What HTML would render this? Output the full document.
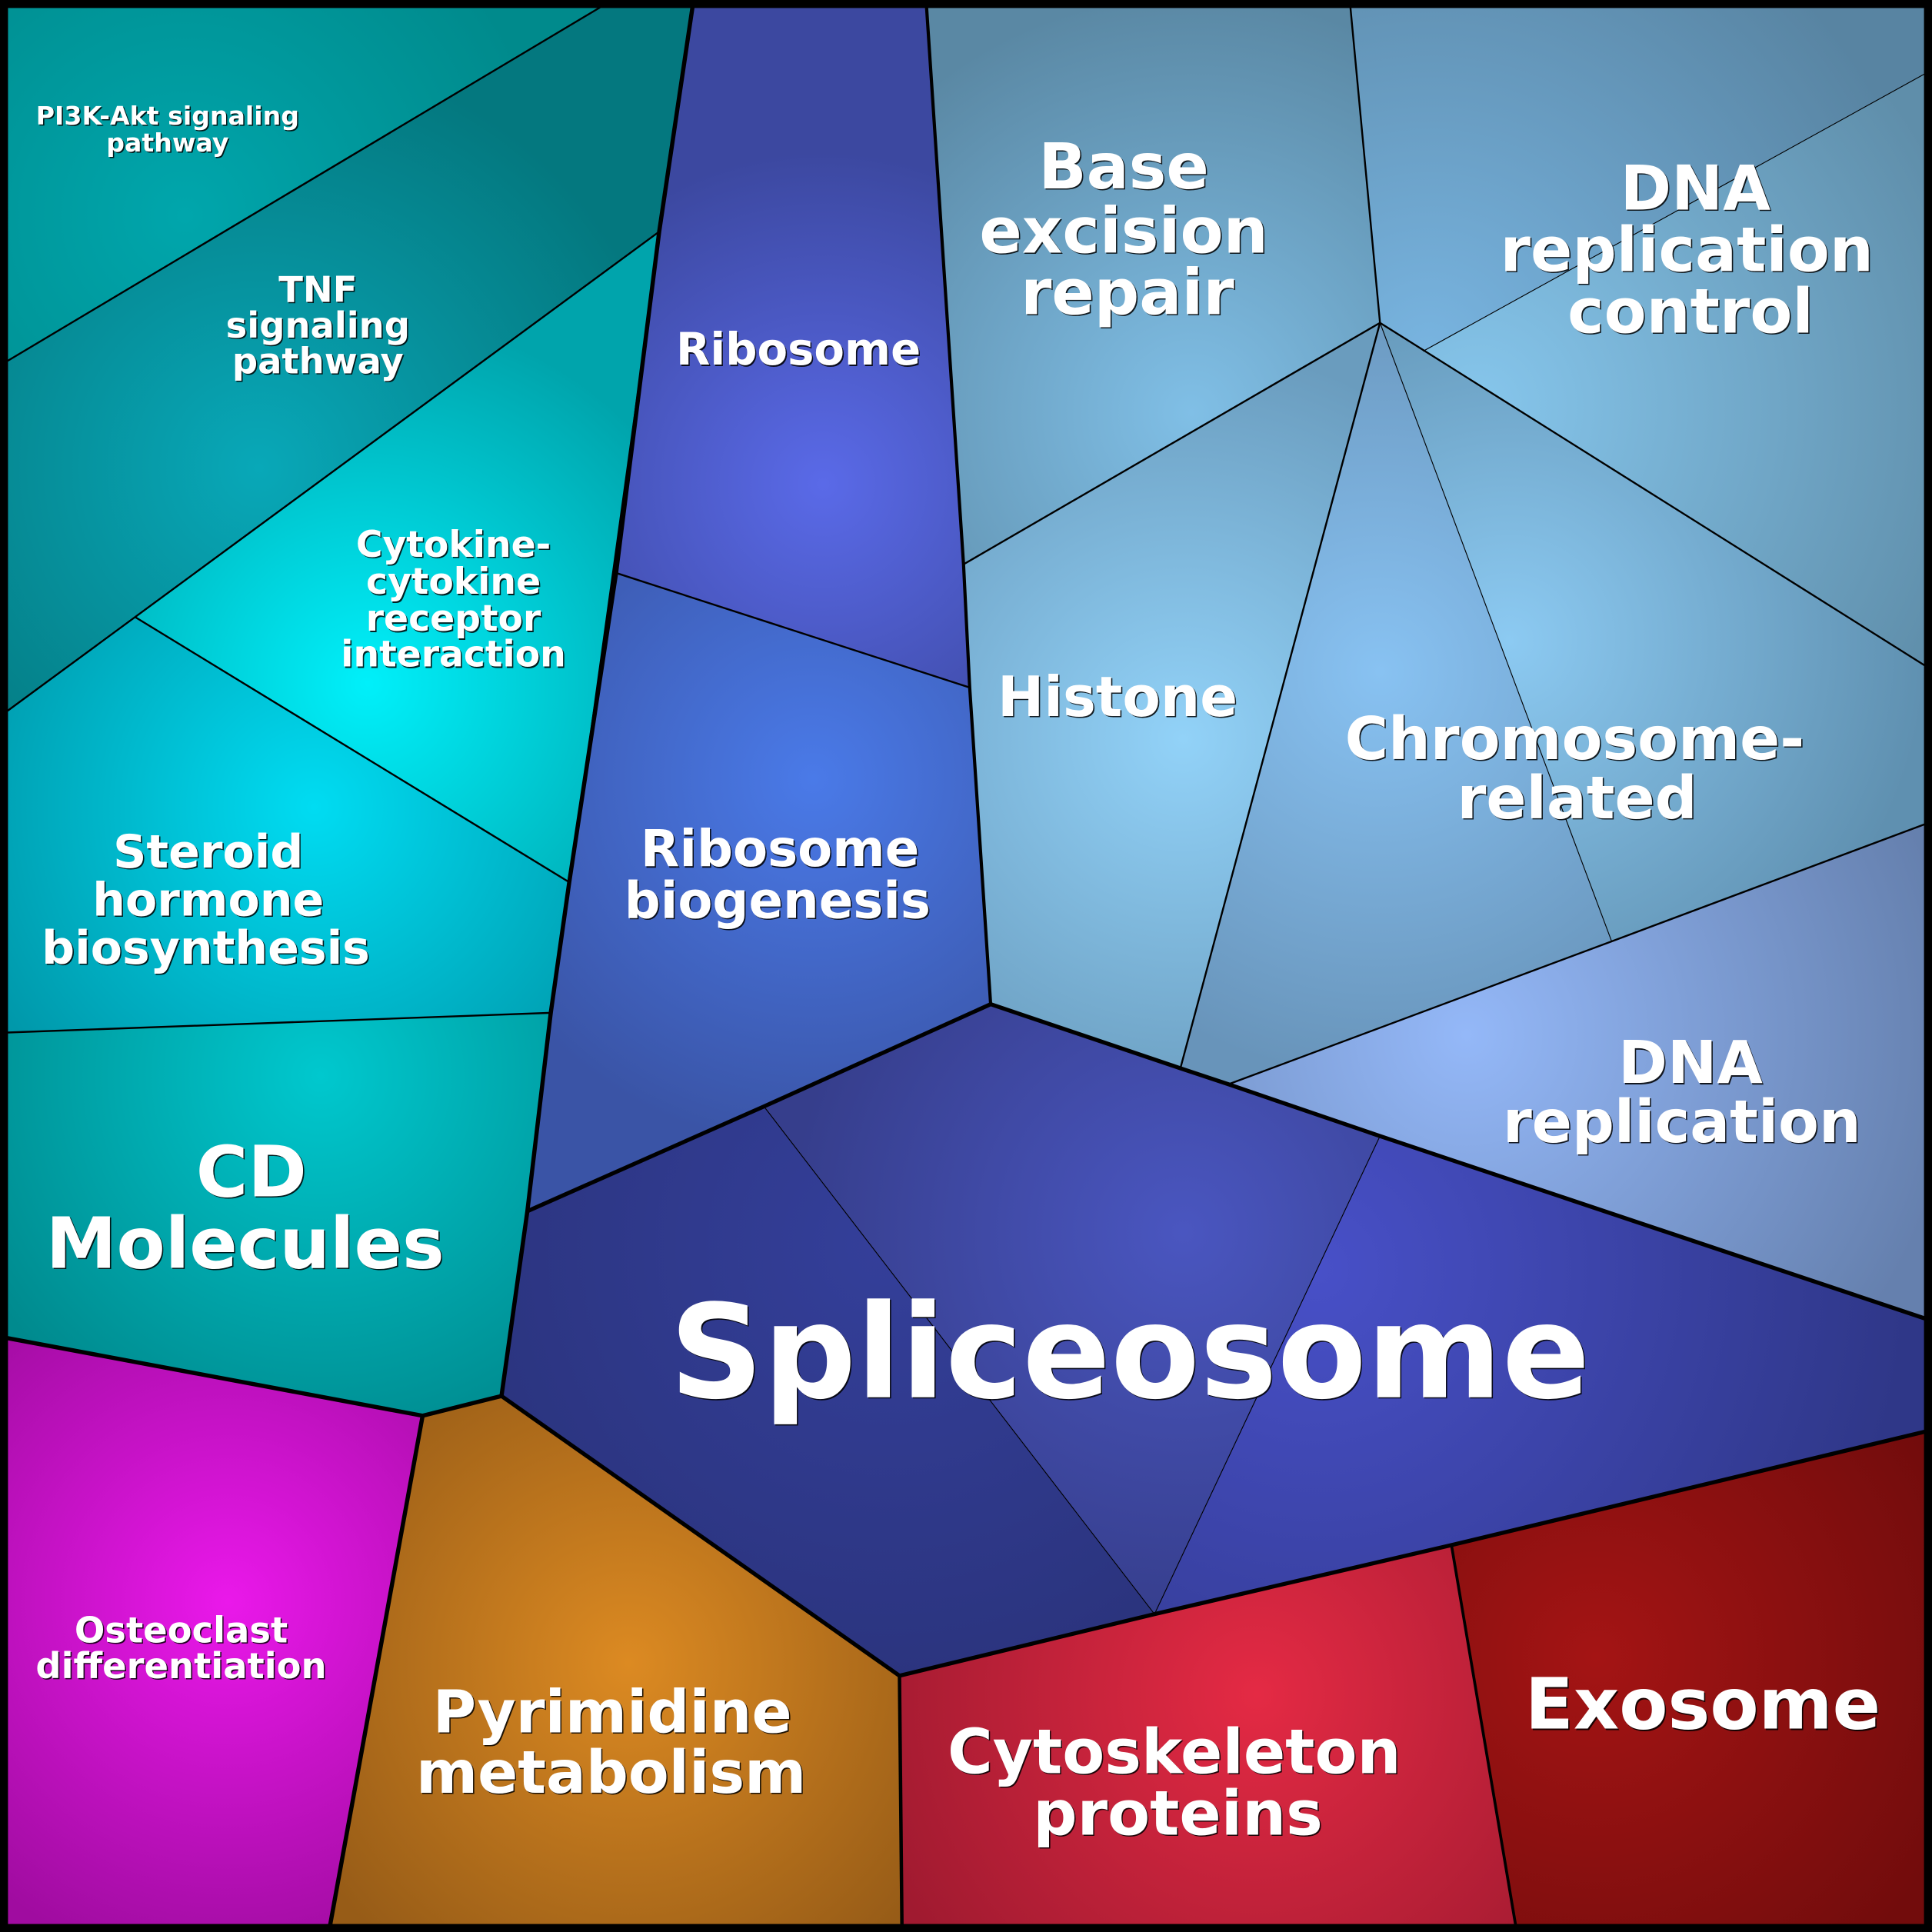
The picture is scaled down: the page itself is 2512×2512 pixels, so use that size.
<!DOCTYPE html>
<html><head><meta charset="utf-8"><style>
html,body{margin:0;padding:0;background:#000;}
svg{display:block;}
text{font-family:"DejaVu Sans","Liberation Sans",sans-serif;font-weight:bold;text-anchor:middle;}
.s{fill:#000;opacity:0.85;}
.w{fill:#fff;}
</style></head><body>
<svg width="2512" height="2512" viewBox="0 0 1568 1568" xmlns="http://www.w3.org/2000/svg">
<defs>
<radialGradient id="gPI" gradientUnits="userSpaceOnUse" cx="150" cy="175" r="300"><stop offset="0" stop-color="#00a6ac"/><stop offset="1" stop-color="#008a8c"/></radialGradient>
<radialGradient id="gTNF" gradientUnits="userSpaceOnUse" cx="210" cy="380" r="340"><stop offset="0" stop-color="#08a8b8"/><stop offset="1" stop-color="#04787f"/></radialGradient>
<radialGradient id="gCY" gradientUnits="userSpaceOnUse" cx="298" cy="555" r="300"><stop offset="0" stop-color="#00f0fa"/><stop offset="1" stop-color="#00a4ac"/></radialGradient>
<radialGradient id="gST" gradientUnits="userSpaceOnUse" cx="255" cy="655" r="320"><stop offset="0" stop-color="#00dcf2"/><stop offset="1" stop-color="#0094a6"/></radialGradient>
<radialGradient id="gCD" gradientUnits="userSpaceOnUse" cx="260" cy="873" r="320"><stop offset="0" stop-color="#00c8ce"/><stop offset="1" stop-color="#008a8e"/></radialGradient>
<radialGradient id="gRI" gradientUnits="userSpaceOnUse" cx="668" cy="393" r="270"><stop offset="0" stop-color="#5a6ae8"/><stop offset="1" stop-color="#3c48a0"/></radialGradient>
<radialGradient id="gRB" gradientUnits="userSpaceOnUse" cx="660" cy="632" r="300"><stop offset="0" stop-color="#4a7ae8"/><stop offset="1" stop-color="#3a54a6"/></radialGradient>
<radialGradient id="gBE" gradientUnits="userSpaceOnUse" cx="967" cy="335" r="340"><stop offset="0" stop-color="#80bfe6"/><stop offset="1" stop-color="#5a88a4"/></radialGradient>
<radialGradient id="gDC1" gradientUnits="userSpaceOnUse" cx="1160" cy="285" r="420"><stop offset="0" stop-color="#78b4e0"/><stop offset="1" stop-color="#5884a2"/></radialGradient>
<radialGradient id="gDC2" gradientUnits="userSpaceOnUse" cx="1200" cy="330" r="420"><stop offset="0" stop-color="#86c6ec"/><stop offset="1" stop-color="#5f8eaa"/></radialGradient>
<radialGradient id="gHI" gradientUnits="userSpaceOnUse" cx="960" cy="600" r="320"><stop offset="0" stop-color="#92d2f8"/><stop offset="1" stop-color="#6a9cbe"/></radialGradient>
<radialGradient id="gCH1" gradientUnits="userSpaceOnUse" cx="1120" cy="545" r="330"><stop offset="0" stop-color="#88c2f2"/><stop offset="1" stop-color="#6894ba"/></radialGradient>
<radialGradient id="gCH2" gradientUnits="userSpaceOnUse" cx="1225" cy="520" r="340"><stop offset="0" stop-color="#8ccaf2"/><stop offset="1" stop-color="#5f90b0"/></radialGradient>
<radialGradient id="gDR" gradientUnits="userSpaceOnUse" cx="1190" cy="840" r="400"><stop offset="0" stop-color="#94b8f8"/><stop offset="1" stop-color="#6580ae"/></radialGradient>
<radialGradient id="gSP1" gradientUnits="userSpaceOnUse" cx="720" cy="1010" r="360"><stop offset="0" stop-color="#343f9a"/><stop offset="1" stop-color="#2b347e"/></radialGradient>
<radialGradient id="gSP2" gradientUnits="userSpaceOnUse" cx="960" cy="1000" r="320"><stop offset="0" stop-color="#4a56c0"/><stop offset="1" stop-color="#363e8c"/></radialGradient>
<radialGradient id="gSP3" gradientUnits="userSpaceOnUse" cx="1069" cy="1030" r="480"><stop offset="0" stop-color="#4850c8"/><stop offset="1" stop-color="#2f3788"/></radialGradient>
<radialGradient id="gOS" gradientUnits="userSpaceOnUse" cx="185" cy="1300" r="300"><stop offset="0" stop-color="#ea18ea"/><stop offset="1" stop-color="#a00ca0"/></radialGradient>
<radialGradient id="gPY" gradientUnits="userSpaceOnUse" cx="510" cy="1350" r="300"><stop offset="0" stop-color="#dc8a22"/><stop offset="1" stop-color="#975c17"/></radialGradient>
<radialGradient id="gCS" gradientUnits="userSpaceOnUse" cx="1020" cy="1375" r="330"><stop offset="0" stop-color="#e42a44"/><stop offset="1" stop-color="#a01a30"/></radialGradient>
<radialGradient id="gEX" gradientUnits="userSpaceOnUse" cx="1295" cy="1345" r="320"><stop offset="0" stop-color="#a41414"/><stop offset="1" stop-color="#720c0c"/></radialGradient>
</defs>

<rect x="0" y="0" width="1568" height="1568" fill="#000"/>

<polygon fill="url(#gPI)" points="6,6 487,6 6,293"/>
<polygon fill="url(#gTNF)" points="487,6 562,6 535,188 6,577 6,293"/>
<polygon fill="url(#gCY)" points="110,501 535,188 462,716"/>
<polygon fill="url(#gST)" points="6,577 110,501 462,716 447,822 6,838"/>
<polygon fill="url(#gCD)" points="6,838 447,822 428,983 407,1133 343,1149 6,1086"/>
<polygon fill="url(#gRI)" points="562,6 752,6 782,458 787,558 500,465 535,188"/>
<polygon fill="url(#gRB)" points="500,465 787,558 804,815 620,898 428,983 447,822 462,716"/>
<polygon fill="url(#gBE)" points="752,6 1096,6 1120,262 782,458"/>
<polygon fill="url(#gDC1)" points="1096,6 1562,6 1562,60 1155,285 1120,262"/>
<polygon fill="url(#gDC2)" points="1155,285 1562,60 1562,540"/>
<polygon fill="url(#gHI)" points="782,458 1120,262 958,867 804,815 787,558"/>
<polygon fill="url(#gCH1)" points="1120,262 1308,764 997,880 958,867"/>
<polygon fill="url(#gCH2)" points="1120,262 1562,540 1562,669 1308,764"/>
<polygon fill="url(#gDR)" points="997,880 1308,764 1562,669 1562,1070 1120,922"/>
<polygon fill="url(#gSP1)" points="428,983 620,898 937,1310 730,1360 407,1133"/>
<polygon fill="url(#gSP2)" points="620,898 804,815 958,867 997,880 1120,922 937,1310"/>
<polygon fill="url(#gSP3)" points="1120,922 1562,1070 1562,1162 1178,1254 937,1310"/>
<polygon fill="url(#gOS)" points="6,1086 343,1149 268,1562 6,1562"/>
<polygon fill="url(#gPY)" points="343,1149 407,1133 730,1360 732,1562 268,1562"/>
<polygon fill="url(#gCS)" points="730,1360 937,1310 1178,1254 1230,1562 732,1562"/>
<polygon fill="url(#gEX)" points="1178,1254 1562,1162 1562,1562 1230,1562"/>

<g stroke="#000" stroke-width="0.7" fill="none">
<line x1="620" y1="898" x2="937" y2="1310"/>
<line x1="1120" y1="922" x2="937" y2="1310"/>
<line x1="1562" y1="60" x2="1155" y2="285"/>
<line x1="1120" y1="262" x2="1308" y2="764"/>
</g>
<g stroke="#000" stroke-width="1.5" fill="none" stroke-linejoin="round">
<line x1="487" y1="6" x2="6" y2="293"/>
<line x1="6" y1="577" x2="535" y2="188"/>
<line x1="110" y1="501" x2="462" y2="716"/>
<line x1="6" y1="838" x2="447" y2="822"/>
<line x1="500" y1="465" x2="787" y2="558"/>
<line x1="1096" y1="6" x2="1120" y2="262"/>
<line x1="782" y1="458" x2="1120" y2="262"/>
<line x1="1120" y1="262" x2="1562" y2="540"/>
<line x1="1120" y1="262" x2="958" y2="867"/>
<polyline points="997,880 1308,764 1562,669"/>
</g>
<g stroke="#000" fill="none" stroke-linejoin="round">
<polyline stroke-width="2.6" points="752,6 782,458 787,558 804,815"/>
<polyline stroke-width="2.3" points="1178,1254 1230,1562"/>
<polyline stroke-width="2.8" points="730,1360 732,1562"/>
<polyline stroke-width="3.4" points="562,6 535,188 500,465 462,716 447,822 428,983 407,1133"/>
<polyline stroke-width="3.4" points="6,1086 343,1149 407,1133"/>
<polyline stroke-width="3.4" points="343,1149 268,1562"/>
<polyline stroke-width="3.3" points="428,983 620,898 804,815 958,867 997,880 1120,922 1562,1070"/>
<polyline stroke-width="3.3" points="1562,1162 1178,1254 937,1310 730,1360 407,1133"/>
</g>
<rect x="0" y="0" width="1568" height="1568" fill="none" stroke="#000" stroke-width="13"/>

<g class="s" transform="translate(1,1)">
<text x="136" y="101" font-size="20.7">PI3K-Akt signaling</text>
<text x="136" y="123" font-size="20.7">pathway</text>
<text x="258" y="245" font-size="29">TNF</text>
<text x="258" y="274" font-size="29">signaling</text>
<text x="258" y="303" font-size="29">pathway</text>
<text x="368" y="452" font-size="29.5">Cytokine-</text>
<text x="368" y="482" font-size="29.5">cytokine</text>
<text x="368" y="512" font-size="29.5">receptor</text>
<text x="368" y="541" font-size="29.5">interaction</text>
<text x="169" y="704" font-size="37.5">Steroid</text>
<text x="169" y="743" font-size="37.5">hormone</text>
<text x="167" y="782" font-size="37.5">biosynthesis</text>
<text x="204" y="971" font-size="57.5">CD</text>
<text x="199" y="1029" font-size="57.5">Molecules</text>
<text x="648" y="296" font-size="36">Ribosome</text>
<text x="633" y="703" font-size="41">Ribosome</text>
<text x="631" y="745" font-size="41">biogenesis</text>
<text x="912" y="153" font-size="51">Base</text>
<text x="912" y="205" font-size="51">excision</text>
<text x="915" y="255" font-size="51">repair</text>
<text x="1376" y="170" font-size="50">DNA</text>
<text x="1369" y="220" font-size="50">replication</text>
<text x="1372" y="270" font-size="50">control</text>
<text x="907" y="581" font-size="45">Histone</text>
<text x="1278" y="616" font-size="48">Chromosome-</text>
<text x="1280" y="664" font-size="48">related</text>
<text x="1372" y="879" font-size="48">DNA</text>
<text x="1365" y="927" font-size="48">replication</text>
<text x="917" y="1134" font-size="105.5">Spliceosome</text>
<text x="147" y="1333" font-size="29">Osteoclast</text>
<text x="147" y="1362" font-size="29">differentiation</text>
<text x="497" y="1406" font-size="48">Pyrimidine</text>
<text x="496" y="1455" font-size="48">metabolism</text>
<text x="953" y="1439" font-size="50">Cytoskeleton</text>
<text x="956" y="1489" font-size="50">proteins</text>
<text x="1382" y="1403" font-size="57.5">Exosome</text>
</g>
<g class="w">
<text x="136" y="101" font-size="20.7">PI3K-Akt signaling</text>
<text x="136" y="123" font-size="20.7">pathway</text>
<text x="258" y="245" font-size="29">TNF</text>
<text x="258" y="274" font-size="29">signaling</text>
<text x="258" y="303" font-size="29">pathway</text>
<text x="368" y="452" font-size="29.5">Cytokine-</text>
<text x="368" y="482" font-size="29.5">cytokine</text>
<text x="368" y="512" font-size="29.5">receptor</text>
<text x="368" y="541" font-size="29.5">interaction</text>
<text x="169" y="704" font-size="37.5">Steroid</text>
<text x="169" y="743" font-size="37.5">hormone</text>
<text x="167" y="782" font-size="37.5">biosynthesis</text>
<text x="204" y="971" font-size="57.5">CD</text>
<text x="199" y="1029" font-size="57.5">Molecules</text>
<text x="648" y="296" font-size="36">Ribosome</text>
<text x="633" y="703" font-size="41">Ribosome</text>
<text x="631" y="745" font-size="41">biogenesis</text>
<text x="912" y="153" font-size="51">Base</text>
<text x="912" y="205" font-size="51">excision</text>
<text x="915" y="255" font-size="51">repair</text>
<text x="1376" y="170" font-size="50">DNA</text>
<text x="1369" y="220" font-size="50">replication</text>
<text x="1372" y="270" font-size="50">control</text>
<text x="907" y="581" font-size="45">Histone</text>
<text x="1278" y="616" font-size="48">Chromosome-</text>
<text x="1280" y="664" font-size="48">related</text>
<text x="1372" y="879" font-size="48">DNA</text>
<text x="1365" y="927" font-size="48">replication</text>
<text x="917" y="1134" font-size="105.5">Spliceosome</text>
<text x="147" y="1333" font-size="29">Osteoclast</text>
<text x="147" y="1362" font-size="29">differentiation</text>
<text x="497" y="1406" font-size="48">Pyrimidine</text>
<text x="496" y="1455" font-size="48">metabolism</text>
<text x="953" y="1439" font-size="50">Cytoskeleton</text>
<text x="956" y="1489" font-size="50">proteins</text>
<text x="1382" y="1403" font-size="57.5">Exosome</text>
</g>
</svg>
</body></html>
